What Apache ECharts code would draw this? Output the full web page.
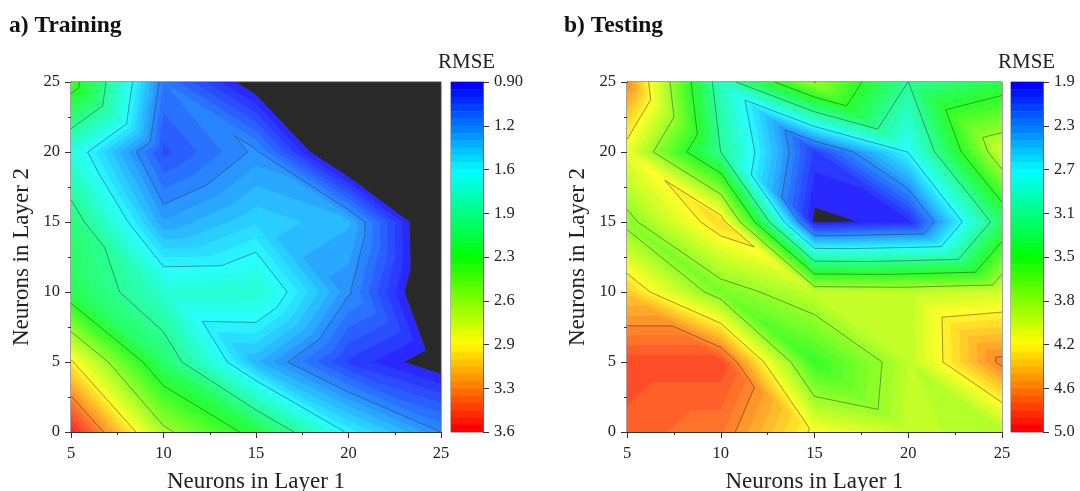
<!DOCTYPE html>
<html><head><meta charset="utf-8">
<style>html,body{margin:0;padding:0;background:#fff}#c{width:1080px;height:491px}</style>
<script src="https://cdn.jsdelivr.net/npm/echarts@6/dist/echarts.min.js"></script>
</head><body><div id="c"></div>
<script>
const FONT = '"Liberation Serif", serif';
const neuronsLayer1 = [5, 10, 15, 20, 25];
const neuronsLayer2 = [0, 5, 10, 15, 20, 25];
// RMSE; one row per Layer-2 value (y = 0 ... 25)
const trainY0  = [3.60, 2.64, 2.166, 1.55, 1.2375];
const trainY5  = [2.95, 2.05, 1.36, 1.00, 0.83];
const trainY10 = [2.115, 1.73, 1.74, 1.25, 0.67];
const trainY15 = [2.017, 1.30, 1.45, 1.36, 0.66];
const trainY20 = [1.69, 1.05, 1.255, 0.645, 0.60];
const trainY25 = [2.36, 1.18, 0.82, 0.60, 0.60];
const testY0  = [4.78, 4.69, 4.19, 4.00, 3.91];
const testY5  = [4.85, 4.85, 3.495, 3.97, 4.66];
const testY10 = [4.39, 3.72, 4.00, 3.98, 4.05];
const testY15 = [3.77, 4.35, 1.873, 1.93, 3.22];
const testY20 = [4.14, 3.06, 2.00, 2.68, 4.04];
const testY25 = [4.62, 2.91, 3.85, 3.06, 3.31];
const trainTicks = ['0.90','1.2','1.6','1.9','2.3','2.6','2.9','3.3','3.6'];
const testTicks  = ['1.9','2.3','2.7','3.1','3.5','3.8','4.2','4.6','5.0'];
const trainRange = [0.9, 3.6];
const testRange  = [1.9, 5.0];
const BANDS = 48, MAJOR = 8;

function ramp(t){ // blue-cyan-green-yellow-red
  const s=[[0,0,255],[0,255,255],[0,255,0],[255,255,0],[255,0,0]];
  const p=Math.min(t,0.99999)*4, i=Math.floor(p), f=p-i;
  return s[i].map((c,n)=>c+(s[i+1][n]-c)*f);
}
function bandColor(k,alpha){
  const c=ramp(k/(BANDS-1)).map(v=>Math.round(v*alpha+255*(1-alpha)));
  return `rgb(${c[0]},${c[1]},${c[2]})`;
}
function triangles(rows){
  const out=[];
  for(let j=0;j<neuronsLayer2.length-1;j++)for(let i=0;i<neuronsLayer1.length-1;i++){
    const P=(a,b)=>[neuronsLayer1[a],neuronsLayer2[b],rows[b][a]];
    out.push([...P(i,j),...P(i+1,j),...P(i,j+1)]);
    out.push([...P(i+1,j+1),...P(i+1,j),...P(i,j+1)]);
  }
  return out;
}
// one item per (band, triangle), lowest band first, so higher bands paint over lower ones
function bandItems(rows,range){
  const step=(range[1]-range[0])/BANDS, tris=triangles(rows), out=[];
  for(let k=0;k<BANDS;k++){
    const L=range[0]+k*step;
    tris.forEach(t=>{ if(Math.max(t[2],t[5],t[8])>=L) out.push([...t,k]); });
  }
  return out;
}
function clipAbove(v,L){ // part of a triangle where value >= L
  const r=[];
  for(let i=0;i<3;i++){
    const a=v[i],b=v[(i+1)%3];
    if(a[2]>=L) r.push(a);
    if((a[2]>=L)!==(b[2]>=L)){
      const t=(L-a[2])/(b[2]-a[2]);
      r.push([a[0]+t*(b[0]-a[0]),a[1]+t*(b[1]-a[1]),L]);
    }
  }
  return r;
}
function verts(api){
  return [0,3,6].map(o=>[api.value(o),api.value(o+1),api.value(o+2)]);
}
function fillRender(range){
  const step=(range[1]-range[0])/BANDS;
  return (params,api)=>{
    const v=verts(api), k=api.value(9);
    const poly=clipAbove(v,range[0]+k*step);
    if(poly.length<3) return null;
    const col=bandColor(k,0.84);
    return {type:'polygon',shape:{points:poly.map(p=>api.coord([p[0],p[1]]))},
      style:{fill:col,stroke:col,lineWidth:0.7}};
  };
}
function lineRender(range){
  const step=(range[1]-range[0])/MAJOR;
  return (params,api)=>{
    const v=verts(api), children=[];
    for(let m=1;m<MAJOR;m++){
      const L=range[0]+m*step, pts=[];
      for(let i=0;i<3;i++){
        const a=v[i],b=v[(i+1)%3];
        if((a[2]>=L)!==(b[2]>=L)){
          const t=(L-a[2])/(b[2]-a[2]);
          pts.push(api.coord([a[0]+t*(b[0]-a[0]),a[1]+t*(b[1]-a[1])]));
        }
      }
      if(pts.length===2) children.push({type:'line',shape:{x1:pts[0][0],y1:pts[0][1],x2:pts[1][0],y2:pts[1][1]},
        style:{stroke:'rgba(50,50,50,0.62)',lineWidth:0.8}});
    }
    return {type:'group',children};
  };
}
function barRender(params,api){
  const k=api.value(0), a=api.coord([0,k]), b=api.coord([1,k+1]);
  return {type:'rect',shape:{x:a[0],y:a[1],width:b[0]-a[0],height:b[1]-a[1]+0.5},style:{fill:bandColor(k,1)}};
}
const bandIdx=Array.from({length:BANDS},(_,k)=>[k]);
const trainRows=[trainY0,trainY5,trainY10,trainY15,trainY20,trainY25];
const testRows=[testY0,testY5,testY10,testY15,testY20,testY25];
const tickStyle={fontFamily:FONT,fontSize:16.5,color:'#222'};
const nameStyle={fontFamily:FONT,fontSize:23,color:'#222'};
const lineStyle={color:'#333',width:1};

function mainAxes(g){
  return {
    x:{type:'value',gridIndex:g,min:5,max:25,interval:5,name:'Neurons in Layer 1',nameLocation:'middle',nameGap:38,nameTextStyle:nameStyle,
       axisLine:{show:true,onZero:false,lineStyle},axisTick:{show:true,length:6,lineStyle},minorTick:{show:true,splitNumber:2,length:3,lineStyle},
       axisLabel:{...tickStyle,margin:13},splitLine:{show:false}},
    y:{type:'value',gridIndex:g,min:0,max:25,interval:5,name:'Neurons in Layer 2',nameLocation:'middle',nameGap:38,nameTextStyle:nameStyle,
       axisLine:{show:true,onZero:false,lineStyle},axisTick:{show:true,length:6,lineStyle},minorTick:{show:true,splitNumber:2,length:3,lineStyle},
       axisLabel:{...tickStyle,margin:11},splitLine:{show:false}}
  };
}
function barAxes(g,labels){
  return {
    x:{type:'value',gridIndex:g,min:0,max:1,show:false},
    y:{type:'value',gridIndex:g,min:0,max:BANDS,interval:BANDS/MAJOR,inverse:true,position:'right',
       axisLine:{show:true,onZero:false,lineStyle:{color:'#666',width:1}},axisTick:{show:true,length:6,lineStyle:{color:'#333'}},
       axisLabel:{...tickStyle,margin:11,formatter:v=>labels[v/(BANDS/MAJOR)]},splitLine:{show:false}}
  };
}
const A=mainAxes(0),B=mainAxes(1),CA=barAxes(2,trainTicks),CB=barAxes(3,testTicks);
const fieldGrid={show:true,backgroundColor:'#292929',borderColor:'#444',borderWidth:1,outerBoundsMode:'none'};
const barGrid={show:true,backgroundColor:'#fff',borderColor:'#666',borderWidth:1,outerBoundsMode:'none'};
const dim={x:[0,3,6],y:[1,4,7]};
const titleStyle={fontFamily:FONT,fontSize:23.5,fontWeight:'bold',color:'#111'};
const rmseStyle={fontFamily:FONT,fontSize:21,fontWeight:'normal',color:'#222'};
const option={
  animation:false,backgroundColor:'#fff',
  title:[
    {text:'a) Training',left:9,top:14,padding:0,textStyle:titleStyle},
    {text:'b) Testing',left:564,top:14,padding:0,textStyle:titleStyle},
    {text:'RMSE',left:438,top:52,padding:0,textStyle:rmseStyle},
    {text:'RMSE',left:998,top:52,padding:0,textStyle:rmseStyle}
  ],
  grid:[
    {left:71,top:82,width:370,height:350,...fieldGrid},
    {left:627,top:82,width:375,height:350,...fieldGrid},
    {left:451,top:82,width:32,height:350,...barGrid},
    {left:1011,top:82,width:32,height:350,...barGrid}
  ],
  xAxis:[A.x,B.x,CA.x,CB.x],
  yAxis:[A.y,B.y,CA.y,CB.y],
  series:[
    {type:'custom',name:'Training RMSE',xAxisIndex:0,yAxisIndex:0,data:bandItems(trainRows,trainRange),encode:dim,renderItem:fillRender(trainRange),silent:true,clip:true,z:2,progressive:0},
    {type:'custom',name:'Training contours',xAxisIndex:0,yAxisIndex:0,data:triangles(trainRows),encode:dim,renderItem:lineRender(trainRange),silent:true,clip:true,z:3},
    {type:'custom',name:'Testing RMSE',xAxisIndex:1,yAxisIndex:1,data:bandItems(testRows,testRange),encode:dim,renderItem:fillRender(testRange),silent:true,clip:true,z:2,progressive:0},
    {type:'custom',name:'Testing contours',xAxisIndex:1,yAxisIndex:1,data:triangles(testRows),encode:dim,renderItem:lineRender(testRange),silent:true,clip:true,z:3},
    {type:'custom',xAxisIndex:2,yAxisIndex:2,data:bandIdx,encode:{y:0},renderItem:barRender,silent:true,clip:true},
    {type:'custom',xAxisIndex:3,yAxisIndex:3,data:bandIdx,encode:{y:0},renderItem:barRender,silent:true,clip:true}
  ]
};
const chart=echarts.init(document.getElementById('c'),null,{renderer:'canvas'});
chart.setOption(option);
</script></body></html>
